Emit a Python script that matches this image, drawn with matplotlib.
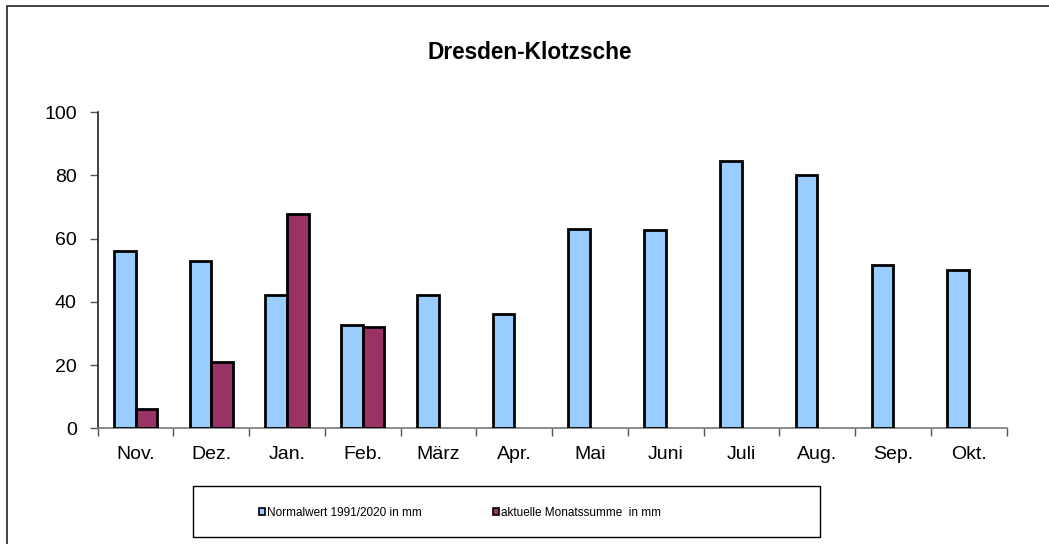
import numpy as np
import matplotlib
matplotlib.use("Agg")
import matplotlib.pyplot as plt
from matplotlib.patches import Patch, Rectangle

plt.rcParams['font.family'] = ['Liberation Sans', 'DejaVu Sans']

# data
monate = ["Nov.", "Dez.", "Jan.", "Feb.", "März", "Apr.", "Mai", "Juni", "Juli", "Aug.", "Sep.", "Okt."]
normalwert = [56, 53, 42.2, 32.8, 42.2, 36.3, 63.0, 62.6, 84.5, 80.2, 51.7, 50.0]
aktuell = [6.0, 20.9, 67.9, 32.0]

blau = "#99CCFF"
rot = "#993366"

fig = plt.figure(figsize=(10.49, 5.44), dpi=100)
ax = fig.add_axes([0.0931, 0.2127, 0.8666, 0.5809])

x = np.arange(len(monate))
w = 0.285
ax.bar(x - w / 2, normalwert, w, color=blau, edgecolor="black", linewidth=2.0, zorder=3)
ax.bar(x[:len(aktuell)] + w / 2, aktuell, w, color=rot, edgecolor="black", linewidth=2.0, zorder=3)

ax.set_xlim(-0.5, len(monate) - 0.5)
ax.set_ylim(0, 100)
ax.set_yticks([0, 20, 40, 60, 80, 100])
ax.set_xticks(x)
ax.set_xticklabels(monate, fontsize=14)
ax.tick_params(axis='x', which='major', length=0, pad=13)
ax.set_xticks(np.arange(-0.5, len(monate)), minor=True)
ax.tick_params(axis='x', which='minor', length=6, width=1, color="#555555", direction='out')
ax.tick_params(axis='y', labelsize=14, length=6, width=1, color="#555555", direction='out', pad=9)

for s in ["top", "right"]:
    ax.spines[s].set_visible(False)
ax.spines["left"].set_color("#222222")
ax.spines["left"].set_linewidth(1.2)
ax.spines["bottom"].set_color("#777777")
ax.spines["bottom"].set_linewidth(1.2)

fig.text(530 / 1049, 0.904, "Dresden-Klotzsche", ha="center", va="center", fontsize=16.3, fontweight="bold")

# legend
handles = [Patch(facecolor=blau, edgecolor="black", linewidth=1.2),
           Patch(facecolor=rot, edgecolor="black", linewidth=1.2)]
labels = ["Normalwert 1991/2020 in mm", "aktuelle Monatssumme  in mm"]
fig.legend(handles, labels, loc="center left", bbox_to_anchor=(259 / 1049, 1 - 513 / 544),
           ncol=2, frameon=False, fontsize=8.5, handlelength=0.55, handleheight=0.55,
           handletextpad=0.15, columnspacing=6.0, borderaxespad=0, borderpad=0)
fig.add_artist(Rectangle((193 / 1049, 1 - 537 / 544), (820 - 193) / 1049, 51 / 544,
                         transform=fig.transFigure, fill=False, edgecolor="black", linewidth=1))

# outer frame (left and top only visible)
fig.add_artist(Rectangle((6.5 / 1049, -0.1), 1.2, 1.1 - 6.5 / 544,
                         transform=fig.transFigure, fill=False, edgecolor="#222222", linewidth=1.2))

fig.savefig("out.png", dpi=100)
